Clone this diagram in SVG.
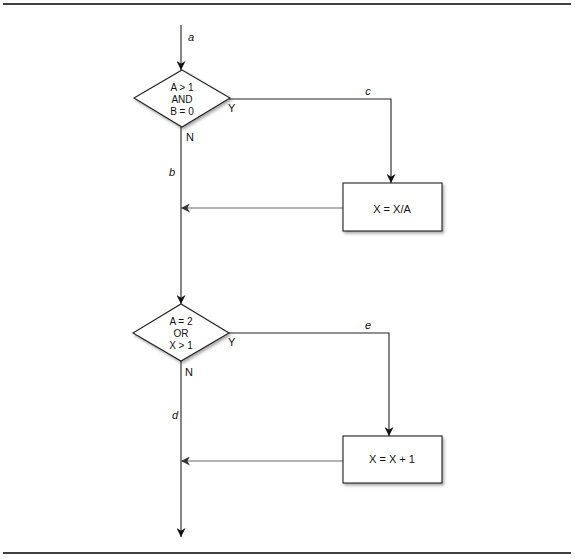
<svg xmlns="http://www.w3.org/2000/svg" width="575" height="559" viewBox="0 0 575 559">
<defs>
<marker id="ah" viewBox="0 0 10 10" refX="10" refY="5" markerWidth="9" markerHeight="9" markerUnits="userSpaceOnUse" orient="auto">
<path d="M0,0 L10,5 L0,10 L3,5 Z" fill="#111"/>
</marker>
<marker id="ahg" viewBox="0 0 10 10" refX="10" refY="5" markerWidth="9" markerHeight="9" markerUnits="userSpaceOnUse" orient="auto">
<path d="M0,0 L10,5 L0,10 L3,5 Z" fill="#333"/>
</marker>
<filter id="sh" x="-10%" y="-10%" width="130%" height="140%">
<feDropShadow dx="1.5" dy="2" stdDeviation="1.5" flood-color="#000" flood-opacity="0.35"/>
</filter>
</defs>
<style>
.ln{fill:none;stroke:#222;stroke-width:1.1}
.lg{fill:none;stroke:#666;stroke-width:1.1}
.sh{fill:#fff;stroke:#222;stroke-width:1.1;filter:url(#sh)}
.t{font-family:"Liberation Sans",Arial,sans-serif;font-size:10px;fill:#111;text-anchor:middle}
.bt{font-family:"Liberation Sans",Arial,sans-serif;font-size:11px;fill:#111;text-anchor:middle}
.lb{font-family:"Liberation Sans",Arial,sans-serif;font-size:11px;font-style:italic;fill:#111;text-anchor:middle}
.yn{font-family:"Liberation Sans",Arial,sans-serif;font-size:11px;fill:#111}
.rule{stroke:#000;stroke-width:1.5}
</style>
<line class="rule" x1="3" y1="4" x2="571" y2="4"/>
<line class="rule" x1="3" y1="553" x2="571" y2="553"/>
<g id="connectors">
<path class="ln" d="M181,25 V70" marker-end="url(#ah)"/>
<path class="ln" d="M181,127 V304" marker-end="url(#ah)"/>
<path class="ln" d="M181,361 V537" marker-end="url(#ah)"/>
<path class="ln" d="M229,99 H391 V183" marker-end="url(#ah)"/>
<path class="ln" d="M229,333 H389 V436" marker-end="url(#ah)"/>
<path class="lg" d="M343,208 H181" marker-end="url(#ahg)"/>
<path class="lg" d="M343,461 H181" marker-end="url(#ahg)"/>
<text class="lb" x="191" y="41">a</text>
<text class="lb" x="172" y="176">b</text>
<text class="lb" x="368" y="95">c</text>
<text class="lb" x="175" y="419">d</text>
<text class="lb" x="368" y="329">e</text>
</g>
<g id="decision1">
<polygon class="sh" points="182,70 230,98 182,127 134,98"/>
<text class="t" x="182" y="90.5">A &gt; 1</text>
<text class="t" x="182" y="102.5">AND</text>
<text class="t" x="182" y="114.5">B = 0</text>
<text class="yn" x="228" y="112">Y</text>
<text class="yn" x="186" y="141">N</text>
</g>
<g id="process1">
<rect class="sh" x="343" y="183" width="99" height="48"/>
<text class="bt" x="392" y="213">X = X/A</text>
</g>
<g id="decision2">
<polygon class="sh" points="181,304 229,333 181,361 133,333"/>
<text class="t" x="181" y="324.5">A = 2</text>
<text class="t" x="181" y="336.5">OR</text>
<text class="t" x="181" y="348.5">X &gt; 1</text>
<text class="yn" x="228" y="346">Y</text>
<text class="yn" x="185" y="376">N</text>
</g>
<g id="process2">
<rect class="sh" x="343" y="436" width="99" height="47"/>
<text class="bt" x="392" y="463">X = X + 1</text>
</g>
</svg>
